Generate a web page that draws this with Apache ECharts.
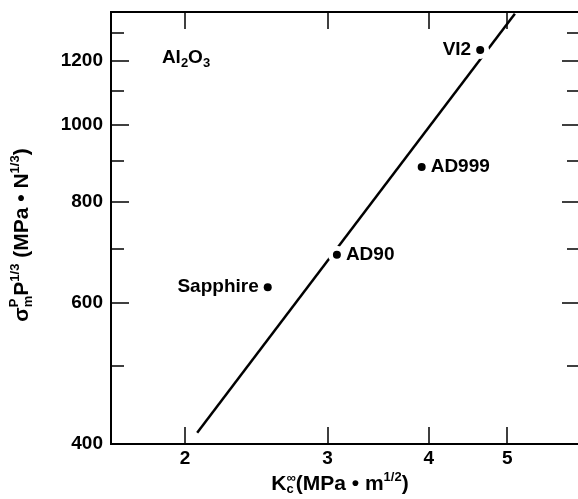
<!DOCTYPE html>
<html>
<head>
<meta charset="utf-8">
<script src="https://cdn.jsdelivr.net/npm/echarts@6/dist/echarts.min.js"></script>
<style>
  html, body { margin: 0; padding: 0; background: #fff; }
  #chart { width: 578px; height: 499px; }
</style>
</head>
<body>
<div id="chart"></div>
<script>
// data (log-log plot)
const xTicks = [2, 3, 4, 5];
const yMajor = [400, 600, 800, 1000, 1200];
const yMinor = [500, 700, 900, 1100, 1300];
const xRange = [1.62, 6.15];
const yRange = [400, 1380];

const names = ['Sapphire', 'AD90', 'AD999', 'VI2'];
const kc = [2.53, 3.08, 3.92, 4.63];
const sigma = [627, 688, 885, 1238];
const labelSide = ['left', 'right', 'right', 'left'];

const fitK = [2.07, 5.11];
const fitSigma = [413, 1373];

const FONT = '"Liberation Sans", Arial, sans-serif';
const lg = Math.log10;

// text with sub/superscripts, laid out piece by piece
const ctx = document.createElement('canvas').getContext('2d');
function textRow(pieces, cx, cy, rotation) {
  let x = 0, pend = 0;
  const kids = [];
  pieces.forEach(p => {
    ctx.font = 'bold ' + p.size + 'px ' + FONT;
    const w = ctx.measureText(p.t).width;
    kids.push({
      type: 'text', x: x, y: p.dy || 0,
      style: { text: p.t, fontSize: p.size, fontWeight: 'bold', fontFamily: FONT,
               fill: '#000', verticalAlign: 'middle', align: 'left' }
    });
    if (p.stack) { pend = Math.max(pend, w); }
    else { x += Math.max(w, pend); pend = 0; }
  });
  kids.forEach(k => { k.x -= x / 2; });
  return { type: 'group', x: cx, y: cy, rotation: rotation || 0, children: kids };
}

const T = 21, S = 13;
const yTitle = textRow([
  { t: 'σ', size: T },
  { t: 'P', size: S, dy: -8, stack: true },
  { t: 'm', size: S, dy: 6 },
  { t: 'P', size: T },
  { t: '1/3', size: S, dy: -7 },
  { t: ' (MPa • N', size: T },
  { t: '1/3', size: S, dy: -7 },
  { t: ')', size: T }
], 22, 235, Math.PI / 2);

const xTitle = textRow([
  { t: 'K', size: T },
  { t: '∞', size: S, dy: -6, stack: true },
  { t: 'c', size: S, dy: 5 },
  { t: '(MPa • m', size: T },
  { t: '1/2', size: S, dy: -7 },
  { t: ')', size: T }
], 340, 484, 0);

const matLabel = textRow([
  { t: 'Al', size: 19 },
  { t: '2', size: 13, dy: 5 },
  { t: 'O', size: 19 },
  { t: '3', size: 13, dy: 5 }
], 186, 58, 0);

const pts = kc.map((k, i) => ({
  value: [lg(k), lg(sigma[i])],
  name: names[i],
  label: { position: labelSide[i] }
}));
const fitLine = fitK.map((k, i) => [lg(k), lg(fitSigma[i])]);

const black = { color: '#000', width: 2 };
function yAxisPart(pos, vals, len, labels) {
  return {
    type: 'value', position: pos,
    min: lg(yRange[0]), max: lg(yRange[1]),
    axisLine: { show: true, lineStyle: black },
    axisTick: { show: true, inside: true, length: len, customValues: vals.map(lg),
                lineStyle: { color: '#000', width: 1.5 } },
    axisLabel: labels ? {
      customValues: vals.map(lg),
      formatter: v => String(Math.round(Math.pow(10, v))),
      fontSize: 19, fontWeight: 'bold', fontFamily: FONT, color: '#000', margin: 8
    } : { show: false },
    splitLine: { show: false }
  };
}
function xAxisPart(pos, labels) {
  return {
    type: 'value', position: pos,
    min: lg(xRange[0]), max: lg(xRange[1]),
    axisLine: { show: true, lineStyle: black },
    axisTick: { show: true, inside: true, length: 17, customValues: xTicks.map(lg),
                lineStyle: { color: '#000', width: 1.5 } },
    axisLabel: labels ? {
      customValues: xTicks.map(lg),
      formatter: v => String(Math.round(Math.pow(10, v))),
      fontSize: 19, fontWeight: 'bold', fontFamily: FONT, color: '#000', margin: 5
    } : { show: false },
    splitLine: { show: false }
  };
}

const chart = echarts.init(document.getElementById('chart'));
chart.setOption({
  animation: false,
  backgroundColor: '#fff',
  grid: { left: 111, right: -2, top: 12, bottom: 55, outerBoundsMode: 'none' },
  xAxis: [xAxisPart('bottom', true), xAxisPart('top', false)],
  yAxis: [
    yAxisPart('left', yMajor, 18, true),
    yAxisPart('left', yMinor, 13, false),
    yAxisPart('right', yMajor, 18, false),
    yAxisPart('right', yMinor, 13, false)
  ],
  series: [
    {
      type: 'line', data: fitLine, symbol: 'none', z: 2,
      lineStyle: { color: '#000', width: 2.5 }
    },
    {
      // white halo that breaks the line near the points
      type: 'scatter', data: pts, symbolSize: 18, z: 3, silent: true,
      itemStyle: { color: '#fff', opacity: 1 }
    },
    {
      type: 'scatter', data: pts, symbolSize: 8, z: 4,
      itemStyle: { color: '#000', opacity: 1 },
      label: {
        show: true, formatter: '{b}', distance: 5,
        fontSize: 19, fontWeight: 'bold', fontFamily: FONT, color: '#000'
      }
    }
  ],
  graphic: [yTitle, xTitle, matLabel]
});
</script>
</body>
</html>
